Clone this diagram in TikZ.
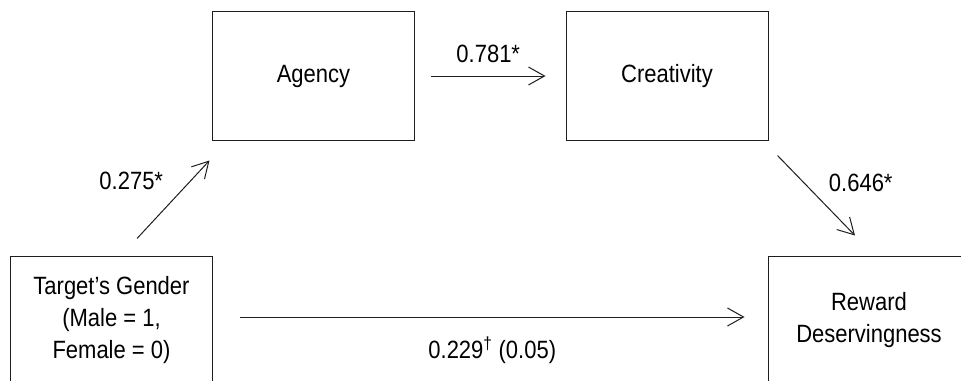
\documentclass[tikz,border=0pt]{standalone}
\usepackage{fontspec}
\setmainfont{Liberation Sans}[FakeStretch=0.88]
\usepackage{tikz}
\usetikzlibrary{arrows.meta, positioning, calc}
\definecolor{linecolor}{RGB}{30,30,30}

\begin{document}
\begin{tikzpicture}[
    x=1bp, y=1bp,
    box/.style={draw=linecolor, line width=1bp, minimum width=202bp, minimum height=128bp, inner sep=0pt, align=center, font=\fontsize{25bp}{31.7bp}\selectfont},
    coef/.style={inner sep=0pt, text=black, font=\fontsize{25bp}{31.7bp}\selectfont},
    arrow/.style={-{Straight Barb[length=16bp, width=18bp]}, line width=1bp, linecolor}
]
    \useasboundingbox (0,0) rectangle (961,380);
    \clip (0,0) rectangle (961,380);

    % Boxes
    \node[box] (agency) at (313.5,304) {Agency};
    \node[box] (creativity) at (667,304) {Creativity};
    \node[box] (target) at (111.5,60) {Target’s Gender\\(Male = 1,\\Female = 0)};
    \node[box] (reward) at (869,60) {Reward\\Deservingness};

    % Paths
    \draw[arrow] ([shift={(25.5bp,17bp)}]target.north) -- ([shift={(-2.5bp,-20bp)}]agency.south west)
        node[coef, midway, shift={(-42bp,18.5bp)}] {0.275*};
    \draw[arrow] ([xshift=16bp]agency.east) -- ([xshift=-20bp]creativity.west)
        node[coef, midway, above=13bp] {0.781*};
    \draw[arrow] ([shift={(9bp,-15bp)}]creativity.south east) -- ([shift={(-14bp,20bp)}]reward.north)
        node[coef, midway, shift={(44.5bp,12.5bp)}] {0.646*};
    \draw[arrow] ([shift={(27bp,3bp)}]target.east) -- ([shift={(-23bp,3bp)}]reward.west)
        node[coef, midway, below=19bp] {0.229\textsuperscript{\textdagger} (0.05)};
\end{tikzpicture}
\end{document}
